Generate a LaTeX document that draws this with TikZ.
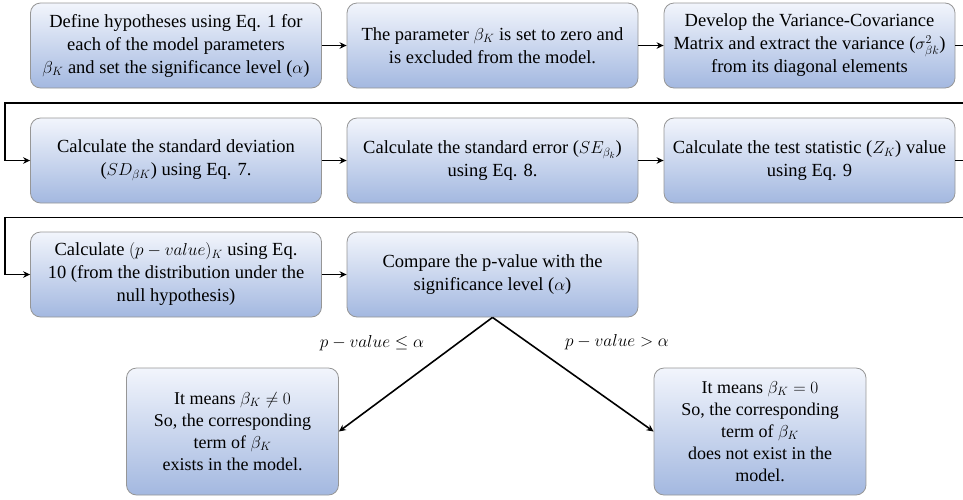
\documentclass[tikz,border=0pt]{standalone}
\usepackage{amsmath}
\usepackage{fontspec}
\setmainfont{Liberation Serif}
\usetikzlibrary{arrows.meta}

\definecolor{boxtop}{RGB}{242,245,252}
\definecolor{boxbot}{RGB}{163,184,224}
\definecolor{boxrim}{RGB}{150,150,150}

\begin{document}
\begin{tikzpicture}[x=1pt, y=-1pt,
        box/.style={draw=boxrim, line width=0.8pt, rounded corners=10pt,
            top color=boxtop, bottom color=boxbot, align=center,
            minimum width=291pt, minimum height=85pt, inner sep=2pt,
            font=\fontsize{18.5}{23}\selectfont},
        endbox/.style={box, minimum width=212pt, minimum height=127pt,
            font=\fontsize{18}{22}\selectfont},
        lbl/.style={font=\fontsize{18}{22}\selectfont},
        link/.style={line width=1.6pt, -{Stealth[length=7pt, width=6.5pt]}}
    ]
                \useasboundingbox (0,0) rectangle (963,499);

                % first row
                \node[box] (s1) at (176,45.5) {Define hypotheses using Eq. 1 for\\each of the model parameters\\$\beta_K$ and set the significance level ($\alpha$)};
                \node[box] (s2) at (492.5,45.5) {The parameter $\beta_K$ is set to zero and\\is excluded from the model.};
                \node[box] (s3) at (809.5,45.5) {Develop the Variance-Covariance\\Matrix and extract the variance ($\sigma^2_{\beta k}$)\\from its diagonal elements};

                % second row
                \node[box] (s4) at (176,160.5) {Calculate the standard deviation\\($SD_{\beta K}$) using Eq. 7.};
                \node[box] (s5) at (492.5,160.5) {Calculate the standard error ($SE_{\beta_k}$)\\using Eq. 8.};
                \node[box] (s6) at (809.5,160.5) {Calculate the test statistic ($Z_K$) value\\using Eq. 9};

                % third row
                \node[box] (s7) at (176,274.5) {Calculate $(p - value)_K$ using Eq.\\10 (from the distribution under the\\null hypothesis)};
                \node[box] (s8) at (492.5,274.5) {Compare the p-value with the\\significance level ($\alpha$)};

                % outcomes
                \node[endbox] (r1) at (232.5,431.5) {It means $\beta_K \neq 0$\\So, the corresponding\\term of $\beta_K$\\exists in the model.};
                \node[endbox] (r2) at (760,431.5) {It means $\beta_K = 0$\\So, the corresponding\\term of $\beta_K$\\does not exist in the\\model.};

                \node[lbl] (l1) at (372,343) {$p - value \leq \alpha$};
                \node[lbl] (l2) at (617,342) {$p - value > \alpha$};

                % bends of the row-to-row links
                \coordinate (t1) at (966,103);
                \coordinate (t2) at (5,103);
                \coordinate (t3) at (966,217.5);
                \coordinate (t4) at (5,217.5);

                \foreach \a/\b in {s1/s2, s2/s3, s4/s5, s5/s6, s7/s8} {
                    \draw[link] (\a) -- (\b);
                }
                \draw[link] (s3.east) -| (t1) -- (t2) |- (s4.west);
                \draw[link] (s6.east) -| (t3) -- (t4) |- (s7.west);
                \draw[link] (s8.south) -- (r1.east);
                \draw[link] (s8.south) -- (r2.west);
            \end{tikzpicture}
\end{document}
